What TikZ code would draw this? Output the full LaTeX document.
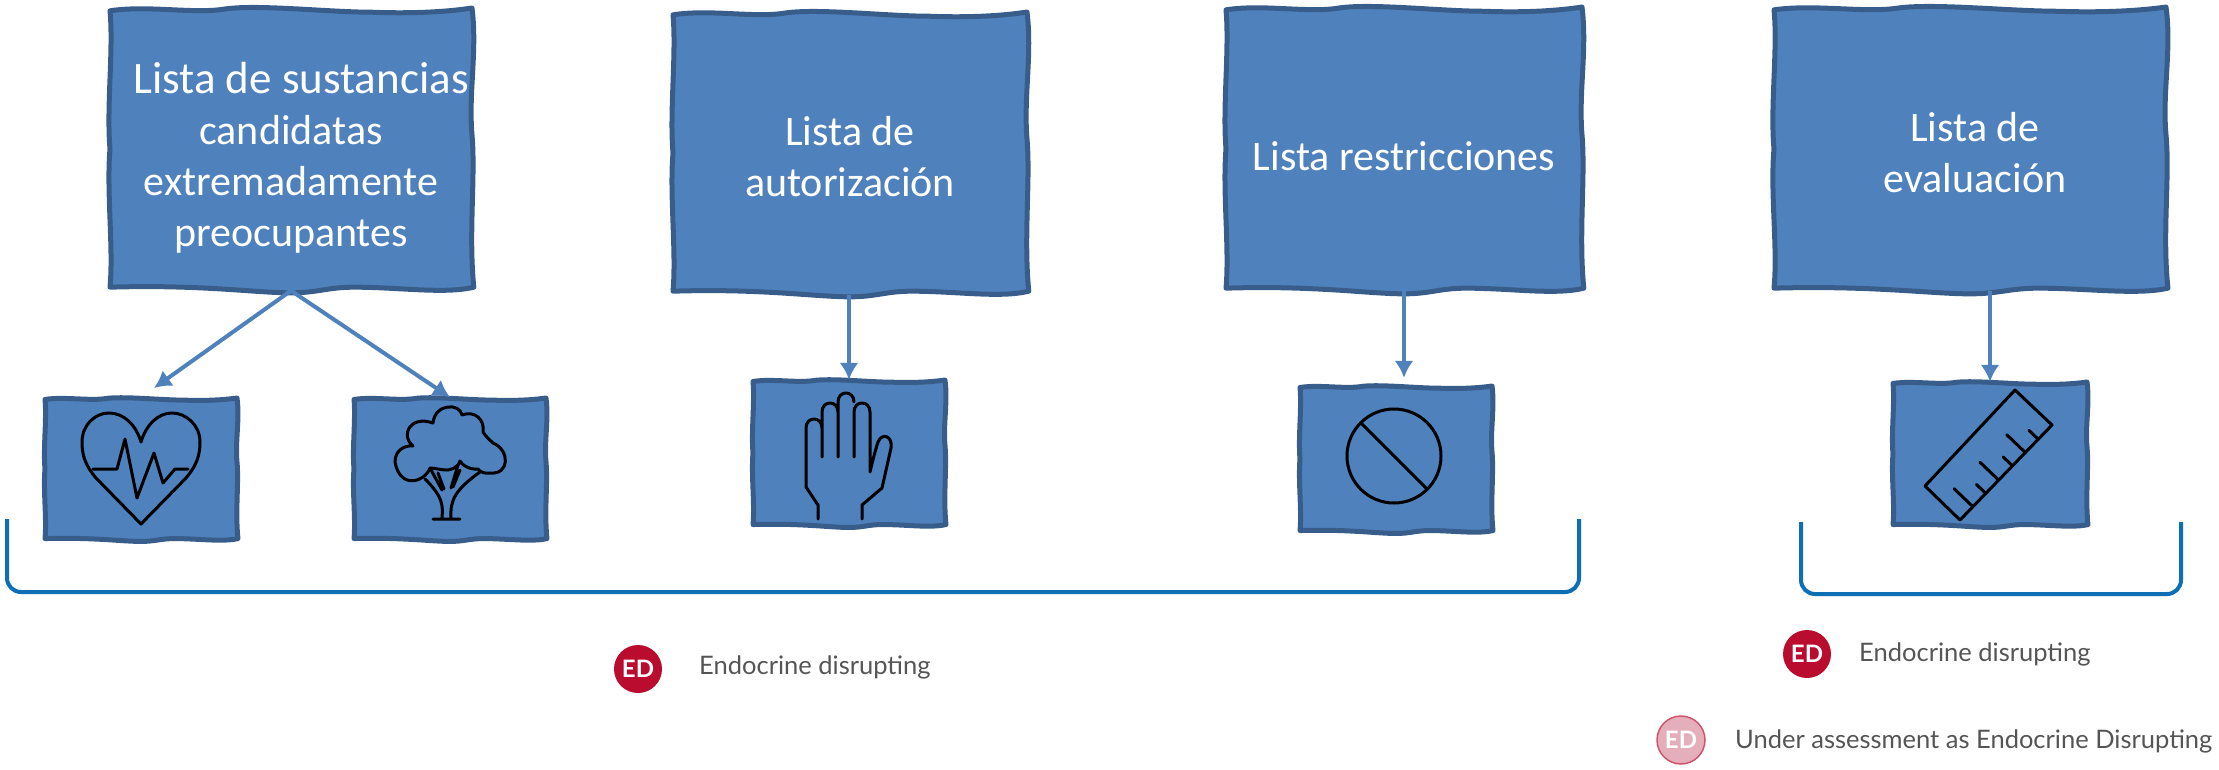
\documentclass[tikz,border=0pt]{standalone}
\usepackage{fontspec}
\setmainfont{Carlito}
\newfontfamily\legendfont{Lato}
\usetikzlibrary{positioning,calc,arrows.meta,backgrounds}
\definecolor{boxblue}{HTML}{4F81BD}
\definecolor{boxline}{HTML}{385D8A}
\definecolor{bracketblue}{HTML}{0F6FB5}
\definecolor{edred}{HTML}{BA0C2F}
\definecolor{edpink}{HTML}{E5AEBB}
\definecolor{legendgrey}{HTML}{555555}
% hand-drawn outline round a node: name, half width, half height
\newcommand{\wavybox}[3]{
\begin{pgfonlayer}{background}
\begin{scope}[shift={(#1.center)},x=#2pt,y=-#3pt]
\draw[wavy] (-1,-.98) .. controls (-.8,-1.02) and (-.55,-.96) .. (-.38,-.99) .. controls (-.2,-1.03) and (.2,-.97) .. (.45,-.97)
  .. controls (.65,-.96) and (.85,-.97) .. (1,-1)
  .. controls (1.03,-.7) and (.98,-.4) .. (1,-.1) .. controls (1.02,.2) and (.98,.6) .. (1.01,.98)
  .. controls (.85,1.03) and (.6,.98) .. (.35,.98) .. controls (.2,.98) and (.15,1.02) .. (0,1.02)
  .. controls (-.2,1.02) and (-.5,.96) .. (-1,.98)
  .. controls (-.98,.7) and (-1.02,.3) .. (-1,0) .. controls (-1.02,-.3) and (-.98,-.7) .. cycle;
\end{scope}
\end{pgfonlayer}}

\begin{document}
\begin{tikzpicture}[x=1pt,y=-1pt,>={Latex[length=17pt,width=19pt]},
wavy/.style={draw=boxline, fill=boxblue, line width=5pt, line join=round},
box/.style={text=white, align=center, inner sep=0pt, font=\fontsize{42}{51}\selectfont},
iconbox/.style={minimum width=192pt, minimum height=143pt, inner sep=0pt},
link/.style={->, draw=boxblue, line width=4pt},
bracket/.style={draw=bracketblue, line width=4pt, rounded corners=14pt},
icon/.style={draw=black, line width=3pt, line join=round, line cap=round},
edmark/.style={circle, minimum size=48pt, inner sep=0pt, font=\legendfont\bfseries\fontsize{24}{24}\selectfont, text=white},
legend/.style={text=legendgrey, anchor=west, inner sep=0pt, font=\legendfont\fontsize{25.5}{30}\selectfont}
]
\useasboundingbox (0,0) rectangle (2219,769);

\node (candidatas) [box, minimum width=363pt, minimum height=283pt] at (291,149) {\rule{0pt}{48pt}\hspace*{20pt}{\fontsize{45}{51}\selectfont Lista de sustancias}\\candidatas\\extremadamente\\preocupantes};
\node (autorizacion) [box, minimum width=355pt, minimum height=283pt] at (850,153) {\rule{0pt}{36pt}Lista de\\autorización};
\node (restricciones) [box, minimum width=357pt, minimum height=284pt] at (1404,149) {\rule{0pt}{44pt}Lista restricciones};
\node (evaluacion) [box, minimum width=393pt, minimum height=284pt] at (1970,149) {\rule{0pt}{36pt}\hspace*{10pt}Lista de\\\hspace*{10pt}evaluación};

\node (heart) [iconbox] at (141,469) {};
\node (tree) [iconbox] at (450,469) {};
\node (hand) [iconbox, minimum height=146pt] at (849,453) {};
\node (prohibit) [iconbox, minimum height=146pt] at (1396,459) {};
\node (ruler) [iconbox, minimum height=144pt] at (1990,454) {};

\wavybox{candidatas}{181}{141}
\wavybox{autorizacion}{177}{141}
\wavybox{restricciones}{178}{142}
\wavybox{evaluacion}{196}{142}
\wavybox{heart}{96}{71}
\wavybox{tree}{96}{71}
\wavybox{hand}{96}{73}
\wavybox{prohibit}{96}{73}
\wavybox{ruler}{97}{72}

\draw[link, shorten >=16pt] (candidatas.south) -- (heart.north);
\draw[link] (candidatas.south) -- (tree.north);
\draw[link] (hand.north |- autorizacion.south) -- (hand.north);
\draw[link, shorten >=8pt] (restricciones.south) -- (restricciones.south |- prohibit.north);
\draw[link] (ruler.north |- evaluacion.south) -- (ruler.north);

% icons
\draw[icon] (141,524) -- (96,478) .. controls (85,465) and (82,455) .. (82,442) .. controls (82,425) and (95,413) .. (109,413) .. controls (124,413) and (136,425) .. (141,442)
  .. controls (146,425) and (158,413) .. (172,413) .. controls (186,413) and (200,425) .. (200,442) .. controls (200,455) and (197,465) .. (186,478) -- cycle;
\draw[icon] (93,469) -- (117,469) -- (125,439) -- (137,498) -- (154,453) -- (163,483) -- (175,469) -- (188,469);

\draw[icon] (433,519) -- (460,519) (442,518) .. controls (443,505) and (443,497) .. (425,479)
  (451,518) .. controls (450,500) and (455,490) .. (480,472)
  (430,468) -- (442,490) (438,473) -- (444,489) (458,465) -- (451,488) (460,470) -- (453,487);
\draw[icon] (430,468) .. controls (425,482) and (400,490) .. (395,462) .. controls (395,450) and (405,445) .. (413,446)
  .. controls (400,435) and (410,415) .. (433,423) .. controls (435,403) and (460,403) .. (462,415)
  .. controls (475,410) and (485,420) .. (483,432) .. controls (487,438) and (490,440) .. (493,443)
  .. controls (510,450) and (510,475) .. (490,473) .. controls (485,474) and (480,472) .. (478,469)
  .. controls (470,470) and (462,465) .. (460,461) .. controls (458,468) and (450,470) .. (447,470) .. controls (440,470) and (435,468) .. (430,468);

\draw[icon] (818,519) -- (818,505) -- (806,487) -- (806,428) .. controls (806,416) and (822,416) .. (822,428)
  (822,457) -- (822,412) .. controls (822,400) and (838,400) .. (838,412)
  (838,457) -- (838,402) .. controls (838,390) and (854,390) .. (854,402)
  (854,457) -- (854,412) .. controls (854,400) and (870,400) .. (870,412) -- (870,472)
  .. controls (874,455) and (877,445) .. (878,442) .. controls (882,432) and (893,436) .. (891,448)
  -- (882,488) -- (862,505) -- (862,519);

\draw[icon] (1394,456) circle (47pt);
\draw[icon] (1361,423) -- (1427,489);

\coordinate (rulerA) at (1960,520);
\coordinate (rulerB) at (2052,425);
\draw[icon] (rulerA) -- (rulerB) -- (2015,390) -- (1925,486) -- cycle;
\foreach \t/\l in {0.14/26,0.28/13,0.42/26,0.57/13,0.71/26,0.85/13}
  \draw[icon] ($(rulerA)!\t!(rulerB)$) -- ++(-0.72*\l,-0.69*\l);

% brackets
\coordinate (leftA) at (7,519);
\coordinate (leftB) at (1579,519);
\draw[bracket] (leftA) -- (7,592) -- (1579,592) -- (leftB);
\coordinate (rightA) at (1801,522);
\coordinate (rightB) at (2181,522);
\draw[bracket] (rightA) -- (1801,594) -- (2181,594) -- (rightB);

% legends
\node (edleft) [edmark, fill=edred] at (638,669) {ED};
\node (edlefttext) [legend] at (699,667) {Endocrine disrupting};
\node (edright) [edmark, fill=edred] at (1807,654) {ED};
\node (edrighttext) [legend] at (1859,654) {Endocrine disrupting};
\node (edassess) [edmark, fill=edpink, draw=edred!70!white, line width=1.5pt] at (1681,740) {ED};
\node (edassesstext) [legend] at (1735,741) {Under assessment as Endocrine Disrupting};

\end{tikzpicture}
\end{document}
